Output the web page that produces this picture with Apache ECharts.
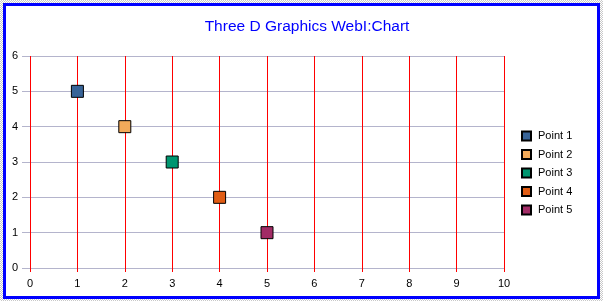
<!DOCTYPE html>
<html>
<head>
<meta charset="utf-8">
<script src="https://cdn.jsdelivr.net/npm/echarts@6/dist/echarts.min.js"></script>
<style>
  html, body { margin: 0; padding: 0; }
  body {
    width: 603px; height: 301px; position: relative; overflow: hidden;
    background-color: #ffffff;
    background-image: repeating-conic-gradient(#c8c8c8 0 25%, #ffffff 0 50%);
    background-size: 2px 2px;
  }
  #frame {
    position: absolute; left: 3px; top: 3px; width: 591px; height: 290px;
    border: 3px solid #0000ff; background: #ffffff;
  }
  #chart { position: absolute; left: 0; top: 0; width: 603px; height: 301px; }
</style>
</head>
<body>
<div id="frame"></div>
<div id="chart"></div>
<script>
// Scatter of five single-point series on a 0..10 by 0..6 grid
const seriesNames = ['Point 1', 'Point 2', 'Point 3', 'Point 4', 'Point 5'];
const xValues = [1, 2, 3, 4, 5];
const yValues = [5, 4, 3, 2, 1];
const colors = ['#386498', '#f2aa5a', '#009670', '#e05c14', '#a22c66'];
const xTicks = { min: 0, max: 10, interval: 1 };
const yTicks = { min: 0, max: 6, interval: 1 };

const chart = echarts.init(document.getElementById('chart'), null, { renderer: 'canvas' });

const series = seriesNames.map((name, i) => ({
  name: name,
  type: 'scatter',
  symbol: 'rect',
  symbolSize: 12,
  itemStyle: { color: colors[i], borderColor: '#000000', borderWidth: 1, opacity: 1 },
  emphasis: { disabled: true },
  data: [[xValues[i], yValues[i]]],
  z: 5
}));

chart.setOption({
  animation: false,
  backgroundColor: 'transparent',
  title: {
    text: 'Three D Graphics WebI:Chart',
    left: 302, top: 14, textAlign: 'center',
    textStyle: { color: '#0000ff', fontFamily: 'Liberation Sans, Arial, sans-serif', fontSize: 15.5, fontWeight: 'normal' }
  },
  legend: {
    orient: 'vertical',
    left: 521, top: 130.5,
    padding: 0,
    itemWidth: 9, itemHeight: 9, itemGap: 7.5,
    icon: 'rect',
    selectedMode: false,
    textStyle: { color: '#000000', fontFamily: 'Liberation Sans, Arial, sans-serif', fontSize: 11, padding: [0, 0, 0, 2] },
    data: seriesNames
  },
  grid: { left: 30, right: 99, top: 56, bottom: 33, containLabel: false },
  xAxis: {
    type: 'value', min: xTicks.min, max: xTicks.max, interval: xTicks.interval,
    axisLine: { show: false },
    axisTick: { show: true, length: 4, lineStyle: { color: '#ff0000', width: 1 } },
    axisLabel: { color: '#000000', fontFamily: 'Liberation Sans, Arial, sans-serif', fontSize: 11, margin: 10 },
    splitLine: { show: true, lineStyle: { color: '#ff0000', width: 1 } }
  },
  yAxis: {
    type: 'value', min: yTicks.min, max: yTicks.max, interval: yTicks.interval,
    axisLine: { show: false },
    axisTick: { show: true, length: 8, lineStyle: { color: '#b4b4cc', width: 1 } },
    axisLabel: { color: '#000000', fontFamily: 'Liberation Sans, Arial, sans-serif', fontSize: 11, margin: 12 },
    splitLine: { show: true, lineStyle: { color: '#b4b4cc', width: 1 } }
  },
  series: series
});
</script>
</body>
</html>
